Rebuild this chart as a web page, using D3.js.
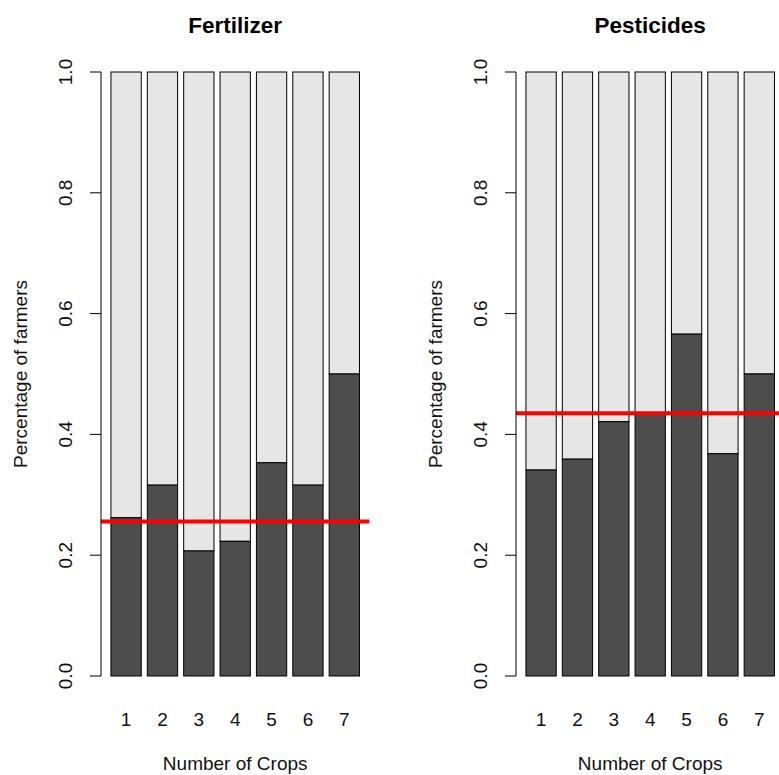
<!DOCTYPE html>
<html lang="en">
<head>
    <meta charset="UTF-8">
    <title>Fertilizer and Pesticides by Number of Crops</title>
    <script src="https://d3js.org/d3.v7.min.js"></script>
    <style>
        body { margin: 0; background: #fff; }
        svg { display: block; font-family: "Liberation Sans", Arial, sans-serif; }
    </style>
</head>
<body>
    <div id="chart"></div>
    <script>
        // Data
        const crops = [1, 2, 3, 4, 5, 6, 7];
        const fertilizer = [0.262, 0.316, 0.207, 0.223, 0.353, 0.316, 0.5];
        const pesticides = [0.341, 0.359, 0.421, 0.436, 0.566, 0.368, 0.5];
        const fertilizerMean = 0.256;
        const pesticidesMean = 0.435;
        const yTicks = [0, 0.2, 0.4, 0.6, 0.8, 1.0];
        const titles = ["Fertilizer", "Pesticides"];

        const W = 779, H = 775;
        const plotTop = 72, plotH = 604, plotW = 268.4;
        const panelLeft = [101, 516];

        const svg = d3.select("#chart").append("svg")
            .attr("width", W)
            .attr("height", H);

        // R barplot style: bars of width 1 with space 0.2, usr extended 4%
        const x = d3.scaleLinear().domain([-0.128, 8.728]).range([0, plotW]);
        const y = d3.scaleLinear().domain([0, 1]).range([plotH, 0]);
        const barLeft = i => 0.2 + i * 1.2;

        function drawPanel(idx, values, mean) {
            const g = svg.append("g")
                .attr("transform", `translate(${panelLeft[idx]},${plotTop})`);

            // light part (rest up to 1)
            g.selectAll("rect.top").data(values).join("rect")
                .attr("class", "top")
                .attr("x", (d, i) => x(barLeft(i)))
                .attr("width", x(1) - x(0))
                .attr("y", y(1))
                .attr("height", d => y(d) - y(1))
                .attr("fill", "#e6e6e6")
                .attr("stroke", "#000")
                .attr("stroke-width", 1);

            // dark part
            g.selectAll("rect.bottom").data(values).join("rect")
                .attr("class", "bottom")
                .attr("x", (d, i) => x(barLeft(i)))
                .attr("width", x(1) - x(0))
                .attr("y", d => y(d))
                .attr("height", d => y(0) - y(d))
                .attr("fill", "#4d4d4d")
                .attr("stroke", "#000")
                .attr("stroke-width", 1);

            // mean line
            g.append("line")
                .attr("x1", x.range()[0])
                .attr("x2", x.range()[1])
                .attr("y1", y(mean))
                .attr("y2", y(mean))
                .attr("stroke", "#ff0000")
                .attr("stroke-width", 4);

            // y axis
            g.append("line")
                .attr("x1", 0).attr("x2", 0)
                .attr("y1", y(0)).attr("y2", y(1))
                .attr("stroke", "#000");
            g.selectAll("line.tick").data(yTicks).join("line")
                .attr("class", "tick")
                .attr("x1", -11).attr("x2", 0)
                .attr("y1", d => y(d)).attr("y2", d => y(d))
                .attr("stroke", "#000");
            g.selectAll("text.ytick").data(yTicks).join("text")
                .attr("class", "ytick")
                .attr("transform", d => `translate(-29,${y(d)}) rotate(-90)`)
                .attr("text-anchor", "middle")
                .attr("font-size", "19px")
                .attr("fill", "#111")
                .text(d => d.toFixed(1));

            // x tick labels (no axis line, as in R barplot)
            g.selectAll("text.xtick").data(crops).join("text")
                .attr("class", "xtick")
                .attr("x", (d, i) => x(barLeft(i) + 0.5))
                .attr("y", 654)
                .attr("text-anchor", "middle")
                .attr("font-size", "19px")
                .attr("fill", "#111")
                .text(d => d);

            // titles
            g.append("text")
                .attr("x", x(4.3))
                .attr("y", 32.5 - plotTop)
                .attr("text-anchor", "middle")
                .attr("font-size", "22.5px")
                .attr("font-weight", "bold")
                .attr("fill", "#000")
                .text(titles[idx]);

            g.append("text")
                .attr("x", x(4.3))
                .attr("y", 770 - plotTop)
                .attr("text-anchor", "middle")
                .attr("font-size", "19px")
                .attr("fill", "#111")
                .text("Number of Crops");

            g.append("text")
                .attr("transform", `translate(-74,${plotH / 2}) rotate(-90)`)
                .attr("text-anchor", "middle")
                .attr("font-size", "19px")
                .attr("fill", "#111")
                .text("Percentage of farmers");
        }

        drawPanel(0, fertilizer, fertilizerMean);
        drawPanel(1, pesticides, pesticidesMean);
    </script>
</body>
</html>
